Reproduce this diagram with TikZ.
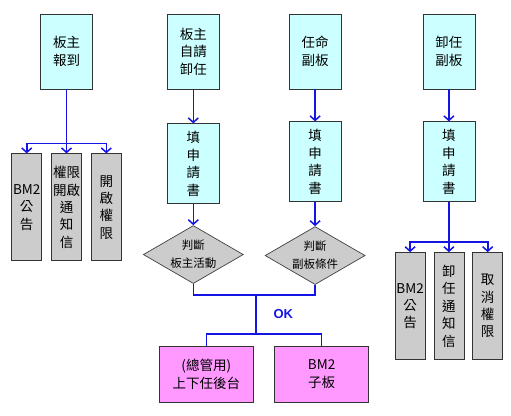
\documentclass[tikz,border=0pt]{standalone}
\usepackage{fontspec}
\setmainfont{Noto Sans CJK TC}
\newfontfamily\okfont{Liberation Sans}
\usetikzlibrary{positioning}
\usetikzlibrary{calc}
\usetikzlibrary{arrows.meta}
\usetikzlibrary{shapes.geometric}
\definecolor{boxcyan}{HTML}{CCFFFF}
\definecolor{boxgray}{HTML}{CCCCCC}
\definecolor{boxpink}{HTML}{FF99FF}
\definecolor{flowblue}{HTML}{1414E6}
\begin{document}
\begin{tikzpicture}[
    topbox/.style={rectangle, draw=black!80, line width=0.8pt, fill=boxcyan, minimum width=52pt, minimum height=75pt, inner sep=0pt, align=center, font=\fontsize{13.5}{17.5}\selectfont},
    formbox/.style={topbox, minimum height=80pt},
    outbox/.style={rectangle, draw=black!80, line width=0.8pt, fill=boxgray, minimum width=30pt, minimum height=107pt, inner sep=0pt, align=center, font=\fontsize{13.5}{17.4}\selectfont},
    check/.style={diamond, draw=black!75, line width=0.7pt, fill=boxgray, aspect=1.72, inner sep=0pt, minimum width=100pt, minimum height=58pt, align=center, font=\fontsize{11.5}{18}\selectfont},
    result/.style={rectangle, draw=black!80, line width=0.8pt, fill=boxpink, minimum width=94pt, minimum height=56pt, inner sep=0pt, align=center, font=\fontsize{13.5}{18}\selectfont},
    flow/.style={draw=flowblue, line width=1.6pt},
    arrow/.style={flow, -{Straight Barb[length=4.5pt, width=10pt, line width=1.5pt]}}]
        \useasboundingbox (0pt,0pt) rectangle (511pt,-415pt);

        % top row
        \node[topbox] (report) at (66.5pt,-51.5pt) {板主\\報到};
        \node[topbox, right = 74pt of report] (resign) {板主\\自請\\卸任};
        \node[topbox, right = 69pt of resign] (appoint) {任命\\副板};
        \node[topbox, right = 81pt of appoint] (dismiss) {卸任\\副板};

        % application forms
        \node[formbox, below = 34pt of resign] (form_resign) {填\\申\\請\\書};
        \node[formbox, below = 32pt of appoint] (form_appoint) {填\\申\\請\\書};
        \node[formbox, below = 32pt of dismiss] (form_dismiss) {填\\申\\請\\書};

        % outputs of the report column
        \node[outbox, below = 64pt of report] (notice_open) {權限\\開啟\\通\\知\\信};
        \node[outbox, left = 9pt of notice_open] (post_open) {BM2\\公\\告};
        \node[outbox, right = 9pt of notice_open] (rights_open) {開\\啟\\權\\限};
        \coordinate[below = 54pt of report] (split_report);

        % outputs of the dismiss column
        \node[outbox, below = 50pt of form_dismiss] (notice_close) {卸\\任\\通\\知\\信};
        \node[outbox, left = 8pt of notice_close] (post_close) {BM2\\公\\告};
        \node[outbox, right = 8pt of notice_close] (rights_close) {取\\消\\權\\限};
        \coordinate[below = 40pt of form_dismiss] (split_dismiss);

        % checks
        \node[check, below = 21pt of form_resign] (check_owner) {判斷\\板主活動};
        \node[check, below = 24pt of form_appoint] (check_vice) {判斷\\副板條件};

        % results
        \node[result, below = 62pt of check_owner, xshift=13pt] (backend) {(總管用)\\上下任後台};
        \node[result, below = 61pt of check_vice, xshift=6.5pt] (subboard) {BM2\\子板};
        \coordinate (merge) at (256pt,-295pt);
        \coordinate (fork) at (256pt,-334pt);
        \node[right = 14pt of $(merge)!0.5!(fork)$, font=\okfont\bfseries\fontsize{13}{15}\selectfont, text=flowblue] (ok_label) {OK};

        \draw[arrow] (resign) -- (form_resign);
        \draw[arrow] (appoint) -- (form_appoint);
        \draw[arrow] (dismiss) -- (form_dismiss);
        \draw[arrow] (form_resign) -- (check_owner);
        \draw[arrow] (form_appoint) -- (check_vice);

        \draw[flow] (report) -- (split_report);
        \draw[arrow] (split_report) -| (post_open.north);
        \draw[arrow] (split_report) -- (notice_open.north);
        \draw[arrow] (split_report) -| (rights_open.north);

        \draw[flow] (form_dismiss) -- (split_dismiss);
        \draw[arrow] (split_dismiss) -| (post_close.north);
        \draw[arrow] (split_dismiss) -- (notice_close.north);
        \draw[arrow] (split_dismiss) -| (rights_close.north);

        \draw[flow] (check_owner.south) |- (merge) -| (check_vice.south);
        \draw[flow] (merge) -- (fork);
        \draw[flow] (backend.north) |- (fork) -| (subboard.north);
\end{tikzpicture}
\end{document}
